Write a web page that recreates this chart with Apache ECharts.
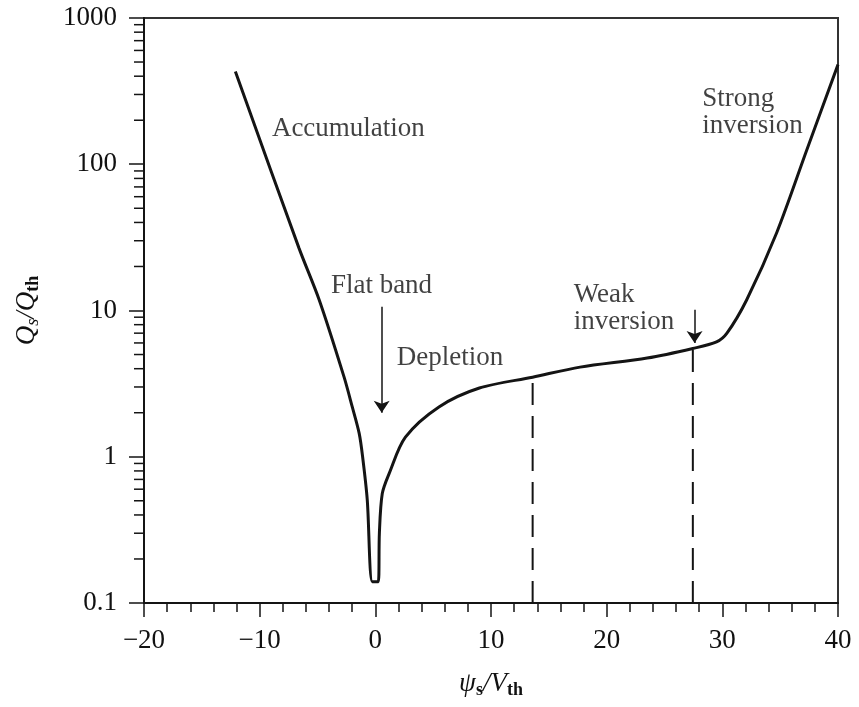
<!DOCTYPE html>
<html>
<head>
<meta charset="utf-8">
<script src="https://cdn.jsdelivr.net/npm/echarts@6/dist/echarts.min.js"></script>
<style>
  html, body { margin: 0; padding: 0; background: #fff; }
  #chart { width: 859px; height: 707px; }
</style>
</head>
<body>
<div id="chart"></div>
<script>
// Normalised surface charge |Qs/Qth| versus normalised surface potential psi_s/V_th
const surfacePotential = [-12.1, -6.6, -4.85, -2.7, -2.0, -1.4, -1.1, -0.7, -0.26,
  0.26, 0.35, 0.6, 1.2, 2.6, 5.5, 9.0, 13.6, 17.7, 23.5, 27.45, 29.5, 30.4, 32.1, 34.7, 37.3, 40.0];
const surfaceCharge = [430, 26.7, 11.8, 3.5, 2.2, 1.45, 1.0, 0.51, 0.14,
  0.14, 0.30, 0.56, 0.77, 1.36, 2.19, 2.95, 3.5, 4.1, 4.73, 5.5, 6.1, 7.0, 11.8, 34, 125, 480];

// Boundaries of the weak-inversion region (dashed verticals)
const boundaryX = [13.6, 27.45];
const boundaryTop = [3.3, 5.5];

// Arrows: [x, yStart, yEnd]
const arrowX = [0.55, 27.6];
const arrowFrom = [10.6, 10.1];
const arrowTo = [2.0, 6.0];

// Region labels
const regionNames = ['Accumulation', 'Flat band', 'Depletion', 'Weak\ninversion', 'Strong\ninversion'];
const regionX = [-8.9, -3.8, 1.9, 17.2, 28.3];
const regionY = [172, 14.7, 4.7, 10.3, 224];

// Axis ticks
const xTicks = { min: -20, max: 40, step: 10 };
const yTickLabels = ['0.1', '1', '10', '100', '1000'];
const yMinorTicks = [];
[0.1, 1, 10, 100].forEach(function (d) {
  for (let m = 2; m <= 9; m++) yMinorTicks.push(+(m * d).toPrecision(3));
});

const SERIF = '"Liberation Serif", "DejaVu Serif", serif';
const INK = '#141414';
const TEXT = '#111';

const chart = echarts.init(document.getElementById('chart'), null, { renderer: 'canvas' });

const curve = surfacePotential.map(function (x, i) { return [x, surfaceCharge[i]]; });

const series = [
  {
    type: 'line',
    data: curve,
    symbol: 'none',
    smooth: 0.3,
    lineStyle: { color: INK, width: 3 },
    z: 5
  }
];

boundaryX.forEach(function (x, i) {
  series.push({
    type: 'line',
    data: [[x, 0.1], [x, boundaryTop[i]]],
    symbol: 'none',
    lineStyle: { color: INK, width: 2, type: [22, 11] },
    z: 4
  });
});

series.push({
  type: 'lines',
  coordinateSystem: 'cartesian2d',
  polyline: false,
  symbol: ['none', 'arrow'],
  symbolSize: 12,
  lineStyle: { color: INK, width: 1.5, opacity: 1 },
  data: arrowX.map(function (x, i) {
    return { coords: [[x, arrowFrom[i]], [x, arrowTo[i]]] };
  }),
  z: 6
});

series.push({
  type: 'scatter',
  symbolSize: 1,
  itemStyle: { color: 'transparent' },
  data: regionNames.map(function (n, i) { return { name: n, value: [regionX[i], regionY[i]] }; }),
  label: {
    show: true,
    position: [0, 0],
    align: 'left',
    verticalAlign: 'middle',
    formatter: function (p) { return p.name; },
    fontFamily: SERIF,
    fontSize: 27,
    lineHeight: 27,
    color: TEXT
  },
  silent: true,
  z: 7
});

// Logarithmic minor ticks on the left axis
series.push({
  type: 'custom',
  data: yMinorTicks.map(function (v) { return [xTicks.min, v]; }),
  renderItem: function (params, api) {
    const p = api.coord([api.value(0), api.value(1)]);
    return {
      type: 'line',
      shape: { x1: p[0] - 10, y1: p[1], x2: p[0], y2: p[1] },
      style: { stroke: INK, lineWidth: 1.5 }
    };
  },
  clip: false,
  silent: true,
  z: 3
});

chart.setOption({
  animation: false,
  backgroundColor: '#fff',
  grid: {
    left: 144, right: 21, top: 18, bottom: 104,
    show: true, borderColor: '#333', borderWidth: 2, backgroundColor: 'transparent'
  },
  xAxis: {
    type: 'value',
    min: xTicks.min, max: xTicks.max, interval: xTicks.step,
    name: '{i|ψ}{s|s}{i|/V}{s|th}',
    nameLocation: 'middle',
    nameGap: 66,
    nameTextStyle: {
      rich: {
        i: { fontFamily: SERIF, fontStyle: 'italic', fontSize: 27, lineHeight: 30, color: TEXT },
        s: { fontFamily: SERIF, fontSize: 18, lineHeight: 16, verticalAlign: 'bottom', color: TEXT, fontWeight: 'bold' }
      }
    },
    axisLine: { onZero: false, lineStyle: { color: INK, width: 2 } },
    axisTick: { length: 14, lineStyle: { color: INK, width: 1.5 } },
    minorTick: { show: true, splitNumber: 5, length: 9, lineStyle: { color: INK, width: 1.5 } },
    splitLine: { show: false },
    axisLabel: {
      fontFamily: SERIF, fontSize: 27, color: TEXT, margin: 24,
      formatter: function (v) { return String(v).replace('-', '\u2212'); }
    }
  },
  yAxis: {
    type: 'log',
    logBase: 10,
    min: 0.1, max: 1000,
    name: '{i|Q}{s|s}{i|/Q}{t|th}',
    nameLocation: 'middle',
    nameGap: 102,
    nameRotate: 90,
    nameTextStyle: {
      rich: {
        i: { fontFamily: SERIF, fontStyle: 'italic', fontSize: 27, lineHeight: 30, color: TEXT },
        s: { fontFamily: SERIF, fontStyle: 'italic', fontSize: 18, lineHeight: 16, verticalAlign: 'bottom', color: TEXT },
        t: { fontFamily: SERIF, fontSize: 18, lineHeight: 16, verticalAlign: 'bottom', color: TEXT, fontWeight: 'bold' }
      }
    },
    axisLine: { onZero: false, lineStyle: { color: INK, width: 2 } },
    axisTick: { length: 15, lineStyle: { color: INK, width: 1.5 } },
    splitLine: { show: false },
    axisLabel: {
      fontFamily: SERIF, fontSize: 27, color: TEXT, margin: 27,
      formatter: function (v) {
        const idx = Math.round(Math.log10(v)) + 1;
        return yTickLabels[idx];
      }
    }
  },
  series: series
});
</script>
</body>
</html>
